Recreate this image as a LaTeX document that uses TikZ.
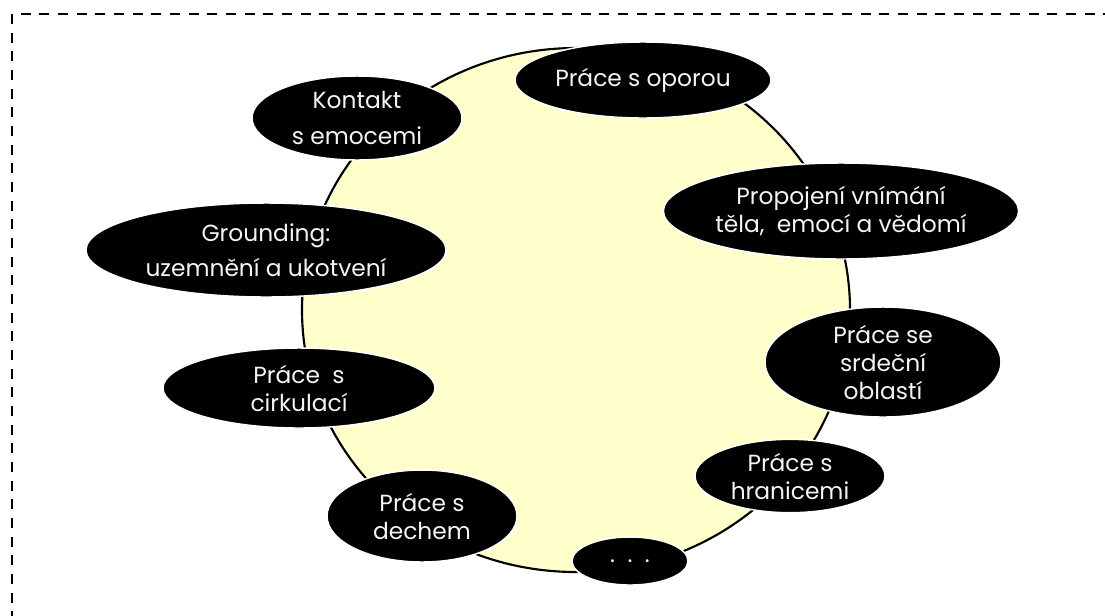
\documentclass[tikz,border=0pt]{standalone}
\usepackage{fontspec}
\setmainfont{Poppins}
\usetikzlibrary{shapes.geometric}
\definecolor{pale}{HTML}{FFFFCC}
\definecolor{soft}{HTML}{F4F4F4}
\begin{document}
\begin{tikzpicture}[x=0.75pt,y=-0.75pt,
  topic/.style={ellipse, fill=black, draw=white, line width=1.1pt,
    text=soft, align=center, inner sep=0pt,
    font=\fontsize{17.5}{21}\selectfont},
  hub/.style={ellipse, fill=pale, draw=black, line width=1.6pt, inner sep=0pt},
  frame/.style={draw=black, line width=1.6pt, dash pattern=on 7.5pt off 6.5pt}
]
\useasboundingbox (0,0) rectangle (1105,615);
\begin{scope}
  \clip (0,0) rectangle (1105,615);
  \draw[frame] (12,14) rectangle (1140,650);
\end{scope}

% central pale ellipse
\node[hub, minimum width=411pt, minimum height=393pt] (core) at (576,310) {};

% surrounding topics
\node[topic, minimum width=192pt, minimum height=57pt] (opora) at (643,80) {Práce s oporou};
\node[topic, minimum width=157.5pt, minimum height=63pt, font=\fontsize{17.5}{27}\selectfont] (emoce) at (357,118) {Kontakt\\s emocemi};
\node[topic, minimum width=253pt, minimum height=72pt] (propojeni) at (841,211) {Propojení vnímání\\těla,\ \ emocí a vědomí};
\node[topic, minimum width=270pt, minimum height=70.5pt, font=\fontsize{17.5}{26}\selectfont] (grounding) at (266,250) {Grounding:\\uzemnění a ukotvení};
\node[topic, minimum width=177pt, minimum height=82.5pt] (srdce) at (883,362) {Práce se\\srdeční\\oblastí};
\node[topic, minimum width=204pt, minimum height=60pt] (cirkulace) at (299,388) {Práce\ \ s\\cirkulací};
\node[topic, minimum width=142.5pt, minimum height=55pt] (hranice) at (790,476) {Práce s\\hranicemi};
\node[topic, minimum width=142.5pt, minimum height=69pt] (dech) at (422,516) {Práce s\\dechem};
\node[topic, minimum width=87pt, minimum height=36pt] (dalsi) at (630,561) {.\ \ .\ \ .};
\end{tikzpicture}
\end{document}
